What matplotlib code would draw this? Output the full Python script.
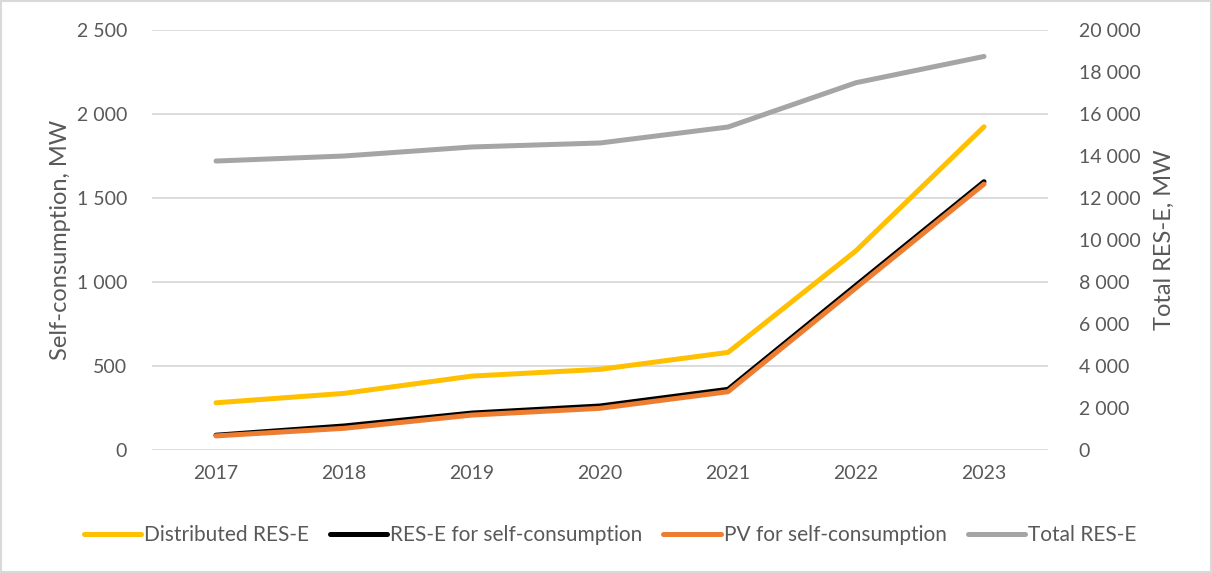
import matplotlib.pyplot as plt
from matplotlib.ticker import FuncFormatter, MultipleLocator

plt.rcParams['font.family'] = ['Lato', 'DejaVu Sans']

years = ['2017', '2018', '2019', '2020', '2021', '2022', '2023']
distributed = [281, 337, 440, 480, 581, 1186, 1924]
res_self = [88, 143, 220, 262, 361, 980, 1597]
pv_self = [84, 129, 208, 248, 347, 965, 1583]
total_res = [13760, 14000, 14430, 14620, 15380, 17490, 18740]

txt = '#595959'
grid = '#D9D9D9'

def space_thousands(v, pos):
    return f'{int(round(v)):,}'.replace(',', ' ')

fig = plt.figure(figsize=(12.12, 5.73), dpi=100)
fig.patch.set_facecolor('white')
ax = fig.add_axes([152/1212, 1 - 450/573, 896/1212, 420/573])
ax2 = ax.twinx()

x = range(len(years))
lw = 3.6
l1, = ax.plot(x, distributed, color='#FFC000', lw=lw, solid_capstyle='round', solid_joinstyle='round', label='Distributed RES-E', zorder=3)
l2, = ax.plot(x, res_self, color='#000000', lw=lw, solid_capstyle='round', solid_joinstyle='round', label='RES-E for self-consumption', zorder=3)
l3, = ax.plot(x, pv_self, color='#ED7D31', lw=lw, solid_capstyle='round', solid_joinstyle='round', label='PV for self-consumption', zorder=4)
l4, = ax2.plot(x, total_res, color='#A5A5A5', lw=lw, solid_capstyle='round', solid_joinstyle='round', label='Total RES-E')

ax.set_xlim(-0.5, len(years) - 0.5)
ax.set_ylim(0, 2500)
ax2.set_ylim(0, 20000)
ax.yaxis.set_major_locator(MultipleLocator(500))
ax2.yaxis.set_major_locator(MultipleLocator(2000))
ax.yaxis.set_major_formatter(FuncFormatter(space_thousands))
ax2.yaxis.set_major_formatter(FuncFormatter(space_thousands))
ax.set_xticks(list(x))
ax.set_xticklabels(years)

ax.grid(axis='y', color=grid, lw=1.3)
ax.set_axisbelow(True)
for a in (ax, ax2):
    for s in a.spines.values():
        s.set_visible(False)
    a.tick_params(length=0, labelsize=14, colors=txt)
ax.tick_params(axis='y', pad=18)
ax2.tick_params(axis='y', pad=22)
ax.tick_params(axis='x', pad=11)

ax.set_ylabel('Self-consumption, MW', fontsize=17, color=txt, labelpad=4)
ax2.set_ylabel('Total RES-E, MW', fontsize=17, color=txt, labelpad=10)

fig.legend(handles=[l1, l2, l3, l4], loc='center', bbox_to_anchor=(610/1212, 1 - 535/573),
           ncol=4, frameon=False, fontsize=15, labelcolor=txt, handlelength=2.75,
           handletextpad=0.15, columnspacing=1.0)

fig.add_artist(plt.Rectangle((0.001, 0.001), 0.998, 0.998, transform=fig.transFigure,
                             fill=False, edgecolor=grid, lw=1.5))

fig.savefig('out.png', dpi=100, facecolor='white')
